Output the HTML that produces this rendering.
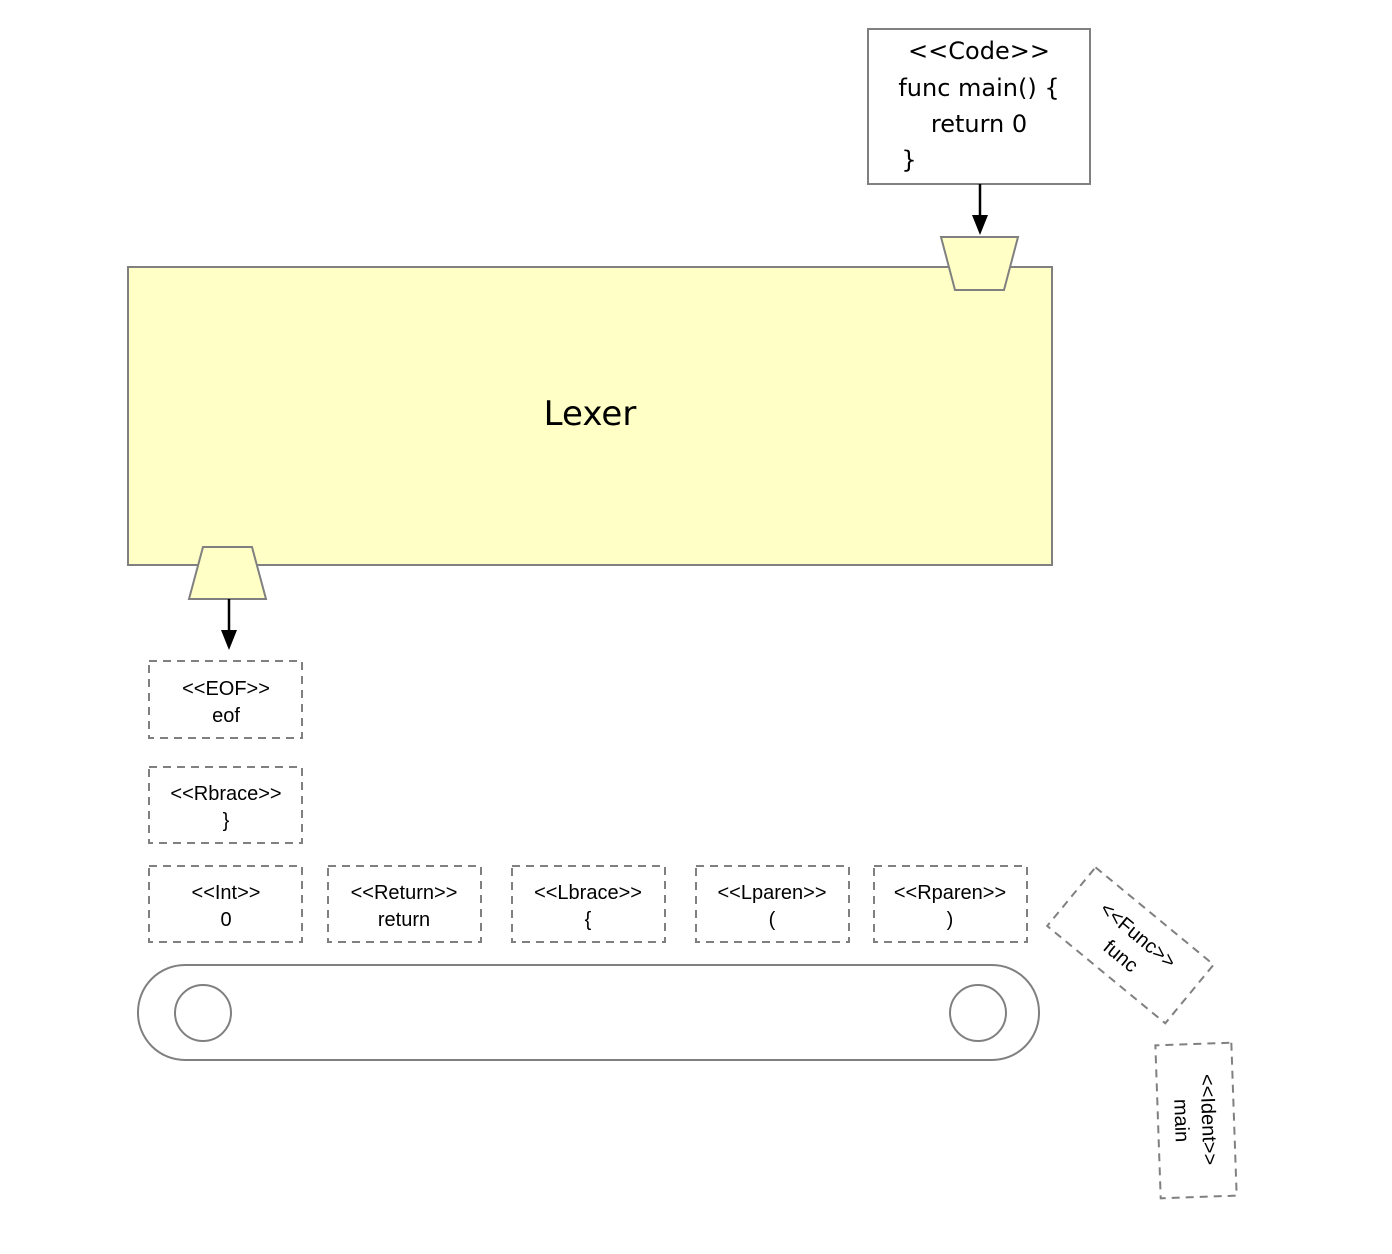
<!DOCTYPE html>
<html><head><meta charset="utf-8"><style>
html,body{margin:0;padding:0;background:#fff;}
svg{display:block;}
text{font-family:"Liberation Sans",sans-serif;fill:#000;}
.code text{font-family:"DejaVu Sans","Liberation Sans",sans-serif;}
</style></head><body>
<svg width="1392" height="1254" viewBox="0 0 1392 1254" xmlns="http://www.w3.org/2000/svg">
<!-- Code box -->
<rect x="868" y="29" width="222" height="155" fill="#fff" stroke="#808080" stroke-width="2"/>
<g class="code" font-size="24" text-anchor="middle">
<text x="979" y="59">&lt;&lt;Code&gt;&gt;</text>
<text x="979" y="96">func main() {</text>
<text x="979" y="132">return 0</text>
<text x="909" y="168">}</text>
</g>
<line x1="980" y1="184" x2="980" y2="218" stroke="#000" stroke-width="2.5"/>
<polygon points="972,215 988,215 980,235" fill="#000"/>
<!-- Lexer -->
<rect x="128" y="267" width="924" height="298" fill="#ffffc6" stroke="#808080" stroke-width="2"/>
<text x="590" y="425" font-size="34" text-anchor="middle" style="font-family:'DejaVu Sans','Liberation Sans',sans-serif">Lexer</text>
<polygon points="941,237 1018,237 1004,290 955,290" fill="#ffffc6" stroke="#808080" stroke-width="2"/>
<polygon points="203,547 252,547 266,599 189,599" fill="#ffffc6" stroke="#808080" stroke-width="2"/>
<line x1="229" y1="599" x2="229" y2="632" stroke="#000" stroke-width="2.5"/>
<polygon points="221,630 237,630 229,650" fill="#000"/>
<!-- tokens -->
<g fill="#fff" stroke="#808080" stroke-width="2" stroke-dasharray="8,6">
<rect x="149" y="661" width="153" height="77"/>
<rect x="149" y="767" width="153" height="76"/>
<rect x="149" y="866" width="153" height="76"/>
<rect x="328" y="866" width="153" height="76"/>
<rect x="512" y="866" width="153" height="76"/>
<rect x="696" y="866" width="153" height="76"/>
<rect x="874" y="866" width="153" height="76"/>
</g>
<g font-size="20" text-anchor="middle">
<text x="226" y="695">&lt;&lt;EOF&gt;&gt;</text><text x="226" y="722">eof</text>
<text x="226" y="800">&lt;&lt;Rbrace&gt;&gt;</text><text x="226" y="827">}</text>
<text x="226" y="899">&lt;&lt;Int&gt;&gt;</text><text x="226" y="926">0</text>
<text x="404" y="899">&lt;&lt;Return&gt;&gt;</text><text x="404" y="926">return</text>
<text x="588" y="899">&lt;&lt;Lbrace&gt;&gt;</text><text x="588" y="926">{</text>
<text x="772" y="899">&lt;&lt;Lparen&gt;&gt;</text><text x="772" y="926">(</text>
<text x="950" y="899">&lt;&lt;Rparen&gt;&gt;</text><text x="950" y="926">)</text>
</g>
<!-- rotated Func -->
<g transform="translate(1130,945) rotate(39.5)">
<rect x="-76" y="-38" width="153" height="76" fill="#fff" stroke="#808080" stroke-width="2" stroke-dasharray="8,6"/>
<text x="0" y="-6" font-size="20" text-anchor="middle">&lt;&lt;Func&gt;&gt;</text>
<text x="0" y="21" font-size="20" text-anchor="middle">func</text>
</g>
<!-- rotated Ident -->
<g transform="translate(1196,1120) rotate(88)">
<rect x="-76" y="-38" width="153" height="76" fill="#fff" stroke="#808080" stroke-width="2" stroke-dasharray="8,6"/>
<text x="0" y="-6" font-size="20" text-anchor="middle">&lt;&lt;Ident&gt;&gt;</text>
<text x="0" y="21" font-size="20" text-anchor="middle">main</text>
</g>
<!-- conveyor -->
<rect x="138" y="965" width="901" height="95" rx="47" ry="47" fill="#fff" stroke="#808080" stroke-width="2"/>
<circle cx="203" cy="1013" r="28" fill="#fff" stroke="#808080" stroke-width="2"/>
<circle cx="978" cy="1013" r="28" fill="#fff" stroke="#808080" stroke-width="2"/>
</svg>
</body></html>
